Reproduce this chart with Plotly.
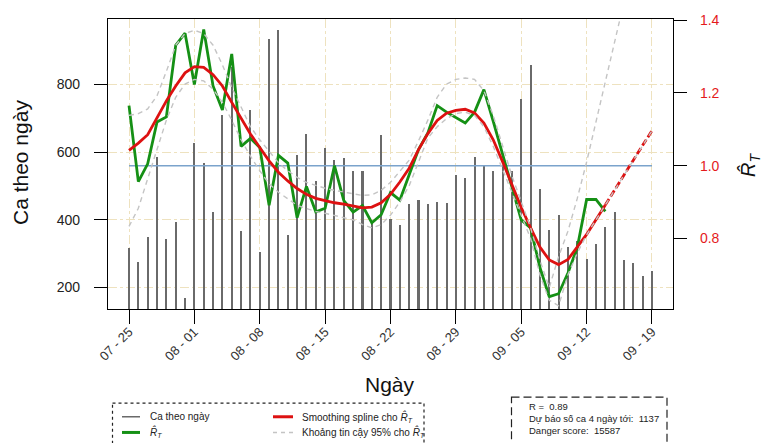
import plotly.graph_objects as go
import pandas as pd

# ---------------- data ----------------
start_date = "2021-07-25"
n_days = 57
dates = pd.date_range(start_date, periods=n_days, freq="D")

cases = [317, 275, 350, 586, 344, 393, 168, 627, 569, 423,
         710, 853, 366, 725, 305, 935, 962, 356, 592, 654,
         515, 611, 578, 582, 545, 545, 394, 650, 401, 386,
         448, 458, 448, 452, 450, 532, 525, 587, 559, 544,
         563, 545, 756, 858, 490, 370, 413, 319, 336, 283,
         327, 380, 423, 280, 273, 235, 247]

rt = [1.165, 0.956, 1.005, 1.120, 1.134, 1.331, 1.364, 1.223, 1.374, 1.219,
      1.153, 1.307, 1.053, 1.075, 1.050, 0.891, 1.028, 1.007, 0.857, 0.943,
      0.873, 0.883, 1.000, 0.904, 0.872, 0.890, 0.843, 0.865, 0.926, 0.905,
      0.975, 1.044, 1.090, 1.165, 1.147, 1.132, 1.117, 1.147, 1.209, 1.122,
      1.030, 0.938, 0.851, 0.829, 0.720, 0.640, 0.648, 0.705, 0.775, 0.907,
      0.907, 0.874]

spline = [1.042, 1.062, 1.085, 1.132, 1.178, 1.219, 1.255, 1.272, 1.270, 1.250,
          1.219, 1.174, 1.129, 1.087, 1.050, 1.013, 0.982, 0.958, 0.937, 0.921,
          0.910, 0.903, 0.898, 0.894, 0.889, 0.884, 0.886, 0.898, 0.921, 0.955,
          0.993, 1.044, 1.088, 1.124, 1.144, 1.152, 1.155, 1.145, 1.117, 1.071,
          1.011, 0.946, 0.885, 0.829, 0.776, 0.741, 0.728, 0.742, 0.775, 0.811,
          0.851, 0.892, 0.932, 0.972, 1.015, 1.056, 1.096]

ci_upper = [1.138, 1.143, 1.156, 1.192, 1.259, 1.331, 1.363, 1.372, 1.363, 1.331,
            1.277, 1.215, 1.161, 1.107, 1.071, 1.039, 1.008, 0.986, 0.968, 0.954,
            0.945, 0.938, 0.932, 0.927, 0.923, 0.918, 0.920, 0.932, 0.954, 0.986,
            1.015, 1.068, 1.125, 1.188, 1.224, 1.237, 1.241, 1.237, 1.206, 1.138,
            1.053, 0.972, 0.901, 0.830, 0.740, 0.665, 0.750, 0.820, 0.910, 1.010,
            1.120, 1.230, 1.340, 1.450, 1.560, 1.670, 1.780]

ci_lower = [0.833, 0.883, 0.964, 1.044, 1.125, 1.188, 1.224, 1.237, 1.233, 1.210,
            1.174, 1.125, 1.071, 1.026, 0.986, 0.950, 0.927, 0.909, 0.891, 0.882,
            0.874, 0.869, 0.863, 0.857, 0.851, 0.838, 0.829, 0.838, 0.864, 0.900,
            0.945, 1.010, 1.076, 1.107, 1.129, 1.143, 1.147, 1.138, 1.107, 1.053,
            0.990, 0.927, 0.865, 0.800, 0.700, 0.630, 0.615, 0.700, 0.760, 0.810,
            0.851, 0.892, 0.932, 0.972, 1.015, 1.056, 1.096]

n_obs = len(rt)           # observed R_T days; spline continues as forecast
threshold = 1.0

right_ticks = [0.8, 1.0, 1.2, 1.4]
left_ticks = [200, 400, 600, 800]

info_lines = ["R =  0.89", "Dự báo số ca 4 ngày tới:  1137", "Danger score:  15587"]
rhat = "<i>R̂</i><sub><i>T</i></sub>"
legend_labels = ["Ca theo ngày", rhat, "Smoothing spline cho " + rhat,
                 "Khoảng tin cậy 95% cho " + rhat]

# ---------------- style ----------------
FONT = "Liberation Sans, Arial, sans-serif"
C_BAR = "#6a6a6a"
C_GREEN = "#159015"
C_RED = "#dd1111"
C_CI = "#c4c4c4"
C_BLUE = "#7ba3cc"
C_GRID = "#eee2bf"

W, H = 771, 443
ML, MR, MT, MB = 108, 98, 13, 134


def pxx(x):
    return (x - ML) / (W - ML - MR)


def pxy(y):
    return (H - MB - y) / (H - MT - MB)


fig = go.Figure()

fig.add_trace(go.Bar(x=dates, y=cases, width=0.22 * 86400000, marker_color=C_BAR,
                     marker_line_width=0, yaxis="y", showlegend=False))

fig.add_trace(go.Scatter(x=[dates[0], dates[-1]], y=[threshold, threshold], mode="lines",
                         line=dict(color=C_BLUE, width=1.5), yaxis="y2", showlegend=False))

fig.add_trace(go.Scatter(x=dates[:n_obs], y=rt, mode="lines",
                         line=dict(color=C_GREEN, width=2.8), yaxis="y2", showlegend=False))

fig.add_trace(go.Scatter(x=dates[:n_obs], y=spline[:n_obs], mode="lines",
                         line=dict(color=C_RED, width=2.8), yaxis="y2", showlegend=False))
fig.add_trace(go.Scatter(x=dates[n_obs - 1:], y=spline[n_obs - 1:], mode="lines",
                         line=dict(color=C_RED, width=2.8, dash="7px,3px"), yaxis="y2",
                         showlegend=False))

for band in (ci_upper, ci_lower):
    fig.add_trace(go.Scatter(x=dates, y=band, mode="lines",
                             line=dict(color=C_CI, width=1.4, dash="5px,4px"), yaxis="y2",
                             showlegend=False))

x0 = pd.Timestamp(start_date) - pd.Timedelta(hours=54)
x1 = pd.Timestamp(dates[-1]) + pd.Timedelta(hours=54)

fig.update_layout(
    width=W, height=H,
    margin=dict(l=ML, r=MR, t=MT, b=MB),
    paper_bgcolor="white", plot_bgcolor="white",
    font=dict(family=FONT, color="#222"),
    bargap=0,
    xaxis=dict(type="date", range=[x0, x1], tick0=start_date, dtick=7 * 86400000,
               tickformat="%m - %d", tickangle=-45, ticks="outside", ticklen=14,
               tickcolor="black", tickfont=dict(size=13, color="#333"),
               ticklabelstandoff=-5,
               showline=True, linecolor="black", linewidth=1.3, mirror=True,
               showgrid=True, gridcolor=C_GRID, griddash="dashdot", gridwidth=1,
               zeroline=False),
    yaxis=dict(range=[136, 994], tickvals=left_ticks, ticks="outside", ticklen=13,
               tickcolor="black", tickfont=dict(size=14, color="#222"),
               ticklabelstandoff=11,
               showline=True, linecolor="black", linewidth=1.3, mirror=True,
               showgrid=True, gridcolor=C_GRID, griddash="dashdot", gridwidth=1,
               zeroline=False),
    yaxis2=dict(range=[0.606, 1.403], overlaying="y", side="right",
                tickvals=right_ticks, ticktext=[f"{v:.1f}" for v in right_ticks],
                ticks="outside", ticklen=13, tickcolor="black",
                tickfont=dict(size=14, color="#e41a1c"), ticklabelstandoff=10,
                showline=True, linecolor="black", linewidth=1.3,
                showgrid=False, zeroline=False),
    showlegend=False,
)

ann = []
ann.append(dict(text="Ca theo ngày", x=pxx(20), y=pxy(160), xref="paper", yref="paper",
                textangle=-90, showarrow=False, font=dict(size=21, color="#111"),
                xanchor="center", yanchor="middle"))
ann.append(dict(text="Ngày", x=pxx(390), y=pxy(386), xref="paper", yref="paper",
                showarrow=False, font=dict(size=21, color="#111"),
                xanchor="center", yanchor="middle"))
ann.append(dict(text=rhat, x=pxx(750), y=pxy(162), xref="paper", yref="paper",
                textangle=-90, showarrow=False, font=dict(size=20, color="#111"),
                xanchor="center", yanchor="middle"))

shapes = []
# legend box (dotted)
shapes.append(dict(type="rect", xref="paper", yref="paper",
                   x0=pxx(112.5), x1=pxx(424), y0=pxy(405), y1=pxy(460),
                   line=dict(color="#222", width=1.2, dash="dot")))
leg_rows = [419, 435]
leg_cols = [(122, 140, 148), (273, 293, 300)]
leg_styles = [dict(color=C_BAR, width=1.5), dict(color=C_GREEN, width=3),
              dict(color=C_RED, width=3), dict(color=C_CI, width=1.4, dash="4px,4px")]
for i, (lab, sty) in enumerate(zip(legend_labels, leg_styles)):
    c = leg_cols[i // 2]
    r = leg_rows[i % 2]
    shapes.append(dict(type="line", xref="paper", yref="paper",
                       x0=pxx(c[0]), x1=pxx(c[1]), y0=pxy(r), y1=pxy(r), line=sty))
    ann.append(dict(text=lab, x=pxx(c[2]), y=pxy(r), xref="paper", yref="paper",
                    showarrow=False, xanchor="left", yanchor="middle",
                    font=dict(size=10, color="#222")))

# info box (dashed)
shapes.append(dict(type="rect", xref="paper", yref="paper",
                   x0=pxx(511.5), x1=pxx(667), y0=pxy(399), y1=pxy(470),
                   line=dict(color="#222", width=1.2, dash="8px,4px")))
for k, line in enumerate(info_lines):
    ann.append(dict(text=line, x=pxx(527), y=pxy(409 + 12 * k), xref="paper", yref="paper",
                    showarrow=False, xanchor="left", yanchor="middle",
                    font=dict(size=9.5, color="#222")))

fig.update_layout(annotations=ann, shapes=shapes)

fig.write_html("out.html", config={"displayModeBar": False},
               post_script="document.body.style.margin='0px';")
